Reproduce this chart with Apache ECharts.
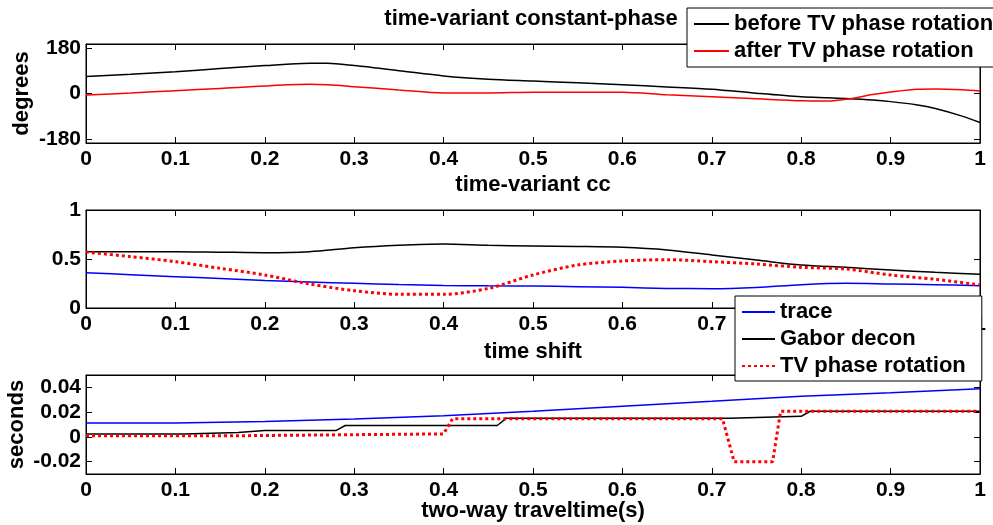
<!DOCTYPE html>
<html>
<head>
<meta charset="utf-8">
<script src="https://cdn.jsdelivr.net/npm/echarts@6/dist/echarts.min.js"></script>
<style>
  html, body { margin: 0; padding: 0; background: #fff; }
  #main { width: 993px; height: 525px; }
</style>
</head>
<body>
<div id="main"></div>
<script>
// top panel: time-variant constant-phase (degrees)
const tTop = [0, 0.05, 0.1, 0.15, 0.2, 0.25, 0.27, 0.3, 0.35, 0.4, 0.45, 0.5, 0.55, 0.6, 0.65, 0.7, 0.75, 0.8, 0.83, 0.85, 0.88, 0.9, 0.93, 0.95, 0.98, 1];
const phaseBefore = [67, 76, 86, 98, 110, 119, 119, 110, 90, 69, 56, 49, 42, 34, 26, 17, 1, -13, -17, -20, -26, -32, -45, -59, -89, -114];
const phaseAfter = [-6, 2, 11, 20, 30, 36, 34, 27, 14, 2, 2, 5, 5, 5, -5, -13, -21, -29, -30, -23, -4, 6, 17, 18, 15, 10];

// middle panel: time-variant cc
const tMid = [0, 0.05, 0.1, 0.15, 0.2, 0.25, 0.3, 0.35, 0.4, 0.45, 0.5, 0.55, 0.6, 0.65, 0.7, 0.75, 0.8, 0.85, 0.9, 0.95, 1];
const ccTrace = [0.36, 0.34, 0.32, 0.30, 0.28, 0.265, 0.252, 0.24, 0.23, 0.226, 0.224, 0.218, 0.211, 0.2, 0.197, 0.21, 0.238, 0.252, 0.245, 0.238, 0.228];
const ccGabor = [0.575, 0.575, 0.575, 0.57, 0.565, 0.575, 0.615, 0.64, 0.653, 0.64, 0.633, 0.628, 0.619, 0.592, 0.541, 0.49, 0.439, 0.415, 0.388, 0.364, 0.344];
const ccTV = [0.571, 0.524, 0.473, 0.405, 0.337, 0.245, 0.177, 0.14, 0.14, 0.2, 0.337, 0.439, 0.48, 0.493, 0.473, 0.449, 0.415, 0.398, 0.337, 0.293, 0.235];

// bottom panel: time shift (seconds)
const tShiftTrace = [0, 0.1, 0.2, 0.3, 0.4, 0.5, 0.6, 0.7, 0.8, 0.9, 1];
const shiftTrace = [0.0112, 0.0112, 0.0125, 0.0144, 0.0171, 0.0207, 0.0248, 0.0288, 0.0329, 0.0357, 0.0389];
const tShiftGabor = [0, 0.11, 0.111, 0.17, 0.171, 0.2, 0.28, 0.29, 0.46, 0.47, 0.72, 0.721, 0.8, 0.81, 1];
const shiftGabor = [0.0024, 0.0024, 0.0035, 0.0035, 0.0044, 0.0052, 0.0052, 0.0092, 0.0092, 0.015, 0.015, 0.0166, 0.0166, 0.0207, 0.0207];
const tShiftTV = [0, 0.18, 0.181, 0.4, 0.41, 0.712, 0.725, 0.768, 0.777, 1];
const shiftTV = [0.001, 0.001, 0.0024, 0.0024, 0.0147, 0.0147, -0.0201, -0.0201, 0.0207, 0.0207];

const degTicks = [-180, 0, 180];
const secTicks = [-0.02, 0, 0.02, 0.04];

const FONT = 'Liberation Sans';
const zip = (xs, ys) => xs.map((x, i) => [x, ys[i]]);

const chart = echarts.init(document.getElementById('main'));

const grids = [
  { left: 86, top: 44, width: 894, height: 99 },
  { left: 86, top: 210, width: 894, height: 98 },
  { left: 86, top: 375, width: 894, height: 99 }
].map(g => Object.assign({ show: true, borderColor: '#000', borderWidth: 1, backgroundColor: '#fff', outerBoundsMode: 'none' }, g));

const tickStyle = { show: true, inside: true, length: 6, lineStyle: { color: '#000', width: 1 } };
const lineAxis = { show: true, onZero: false, lineStyle: { color: '#000', width: 1 } };
const labelStyle = { color: '#000', fontFamily: FONT, fontWeight: 'bold', fontSize: 21 };
const nameStyle = { color: '#000', fontFamily: FONT, fontWeight: 'bold', fontSize: 22 };

const xNames = ['time-variant cc', 'time shift', 'two-way traveltime(s)'];
const xNameGaps = [31, 33, 26];

const xAxes = [];
[0, 1, 2].forEach(i => {
  xAxes.push({
    type: 'value', gridIndex: i, min: 0, max: 1, interval: 0.1,
    position: 'bottom',
    name: xNames[i], nameLocation: 'middle', nameGap: xNameGaps[i], nameTextStyle: nameStyle,
    nameMoveOverlap: false,
    axisLine: lineAxis, axisTick: tickStyle, splitLine: { show: false },
    axisLabel: Object.assign({ margin: 6, showMinLabel: true, showMaxLabel: true }, labelStyle)
  });
  xAxes.push({
    type: 'value', gridIndex: i, min: 0, max: 1, interval: 0.1,
    position: 'top',
    axisLine: lineAxis, axisTick: tickStyle, splitLine: { show: false },
    axisLabel: { show: false }
  });
});

const yAxes = [
  {
    type: 'value', gridIndex: 0, min: -195, max: 195, position: 'left',
    name: 'degrees', nameLocation: 'middle', nameGap: 53, nameRotate: 90, nameTextStyle: nameStyle,
    nameMoveOverlap: false,
    axisLine: lineAxis, splitLine: { show: false },
    axisTick: Object.assign({ customValues: degTicks }, tickStyle),
    axisLabel: Object.assign({ customValues: degTicks, margin: 5 }, labelStyle)
  },
  {
    type: 'value', gridIndex: 0, min: -195, max: 195, position: 'right',
    axisLine: lineAxis, splitLine: { show: false },
    axisTick: Object.assign({ customValues: degTicks }, tickStyle),
    axisLabel: { show: false }
  },
  {
    type: 'value', gridIndex: 1, min: 0, max: 1, interval: 0.5, position: 'left',
    axisLine: lineAxis, splitLine: { show: false }, axisTick: tickStyle,
    axisLabel: Object.assign({ margin: 5 }, labelStyle)
  },
  {
    type: 'value', gridIndex: 1, min: 0, max: 1, interval: 0.5, position: 'right',
    axisLine: lineAxis, splitLine: { show: false }, axisTick: tickStyle,
    axisLabel: { show: false }
  },
  {
    type: 'value', gridIndex: 2, min: -0.03, max: 0.05, position: 'left',
    name: 'seconds', nameLocation: 'middle', nameGap: 58, nameRotate: 90, nameTextStyle: nameStyle,
    nameMoveOverlap: false,
    axisLine: lineAxis, splitLine: { show: false },
    axisTick: Object.assign({ customValues: secTicks }, tickStyle),
    axisLabel: Object.assign({ customValues: secTicks, margin: 5 }, labelStyle)
  },
  {
    type: 'value', gridIndex: 2, min: -0.03, max: 0.05, position: 'right',
    axisLine: lineAxis, splitLine: { show: false },
    axisTick: Object.assign({ customValues: secTicks }, tickStyle),
    axisLabel: { show: false }
  }
];

function line(name, xi, yi, data, color, opts) {
  return Object.assign({
    name: name, type: 'line', xAxisIndex: xi, yAxisIndex: yi,
    data: data, symbol: 'none', smooth: false,
    lineStyle: { color: color, width: 1.5 },
    itemStyle: { color: color }
  }, opts || {});
}
const dotted = { lineStyle: { color: '#ff0000', width: 3, type: [3, 3] } };

const legendText = { color: '#000', fontFamily: FONT, fontWeight: 'bold', fontSize: 22, lineHeight: 22 };
const legendBase = {
  orient: 'vertical', itemWidth: 35, itemHeight: 14,
  backgroundColor: '#fff', borderColor: '#000', borderWidth: 1, borderRadius: 0,
  itemStyle: { opacity: 0 },
  textStyle: legendText, selectedMode: false
};

chart.setOption({
  animation: false,
  backgroundColor: '#fff',
  graphic: [{
    type: 'text', z: 10,
    position: [531, 19],
    style: { text: 'time-variant constant-phase', x: 0, y: 0, textAlign: 'center', textVerticalAlign: 'middle',
      fill: '#000', font: 'bold 22px "Liberation Sans"' }
  }],
  grid: grids,
  xAxis: xAxes,
  yAxis: yAxes,
  legend: [
    Object.assign({}, legendBase, {
      data: ['before TV phase rotation', 'after TV phase rotation'],
      left: 687, top: 8, padding: [5, 10, 5, 6], itemGap: 5
    }),
    Object.assign({}, legendBase, {
      data: ['trace', 'Gabor decon', 'TV phase rotation'],
      left: 735, top: 296, itemWidth: 33, padding: [5, 16, 4, 6], itemGap: 5
    })
  ],
  series: [
    line('before TV phase rotation', 0, 0, zip(tTop, phaseBefore), '#000', { smooth: 0.3 }),
    line('after TV phase rotation', 0, 0, zip(tTop, phaseAfter), '#ff0000', { smooth: 0.3 }),
    line('trace', 2, 2, zip(tMid, ccTrace), '#0000ff', { smooth: 0.3 }),
    line('Gabor decon', 2, 2, zip(tMid, ccGabor), '#000', { smooth: 0.3 }),
    line('TV phase rotation', 2, 2, zip(tMid, ccTV), '#ff0000', Object.assign({ smooth: 0.3 }, dotted)),
    line('trace', 4, 4, zip(tShiftTrace, shiftTrace), '#0000ff'),
    line('Gabor decon', 4, 4, zip(tShiftGabor, shiftGabor), '#000'),
    line('TV phase rotation', 4, 4, zip(tShiftTV, shiftTV), '#ff0000', dotted)
  ]
});
</script>
</body>
</html>
